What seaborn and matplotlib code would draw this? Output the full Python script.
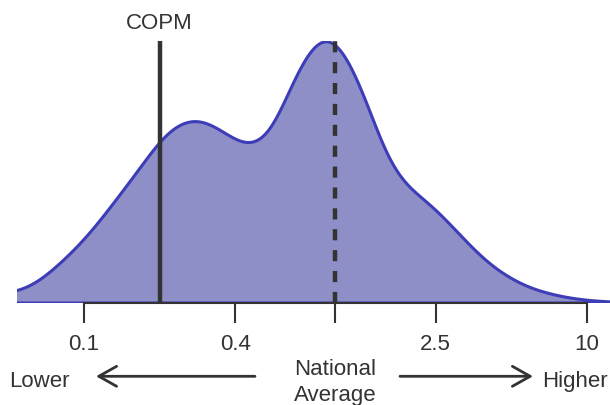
import numpy as np
import matplotlib
matplotlib.use("Agg")
import matplotlib.pyplot as plt
import seaborn as sns

# density curve (log10 of the ratio, height in px above baseline)
log_centers = np.round(np.arange(-1.60, 1.151, 0.05), 2)
density = [
    1.5, 2.5, 3.5, 5, 6.5, 8, 9.5, 12,
    17, 26, 37, 48, 61, 75, 91, 107,
    123, 140, 157, 170, 177, 179, 175, 167,
    158, 152, 154, 166, 196, 225, 248, 261,
    258, 238, 212, 178, 143, 122, 110, 101,
    91, 78, 65, 52, 40, 31, 23, 17,
    12, 9, 6, 4, 2.5, 1.5, 1, 0.5,
]

copm = 0.2
national_avg = 1.0
tick_values = [0.1, 0.4, 1, 2.5, 10]
tick_labels = ["0.1", "0.4", "", "2.5", "10"]

FILL = "#8f8fc8"
LINE = "#3d3db8"
DARK = "#333333"

sns.set_style("ticks")
plt.rcParams["font.family"] = ["Liberation Sans", "DejaVu Sans"]
plt.rcParams["font.size"] = 16

fig = plt.figure(figsize=(6.1, 4.06), dpi=100)
ax = fig.add_axes([17 / 610, 102 / 406, 593 / 610, 262 / 406])

# kernel width of 0.05 in log10 units
w = np.array(density) / np.sum(density)
mean = np.sum(w * log_centers)
std = np.sqrt(np.sum(w * (log_centers - mean) ** 2))

sns.kdeplot(
    x=10 ** log_centers,
    weights=density,
    log_scale=True,
    fill=True,
    bw_method=0.05 / std,
    gridsize=800,
    color=LINE,
    facecolor=FILL,
    edgecolor=LINE,
    alpha=1,
    linewidth=2.2,
    ax=ax,
)

peak = ax.collections[0].get_paths()[0].vertices[:, 1].max()
ax.set_ylim(0, peak * 1.003)
ax.set_xlim(0.0542, 12.35)

ax.axvline(copm, color=DARK, lw=3.2, solid_capstyle="butt")
ax.axvline(national_avg, color=DARK, lw=3.2, dashes=(2.5, 2.2))

ax.annotate("COPM", xy=(copm, 1.048), xycoords=("data", "axes fraction"),
            ha="center", va="baseline", color=DARK, fontsize=16,
            annotation_clip=False)

ax.set_xticks(tick_values)
ax.set_xticklabels(tick_labels)
ax.tick_params(axis="x", which="minor", bottom=False)
ax.tick_params(axis="x", which="major", length=14.5, width=1.5,
               color=DARK, labelcolor=DARK, labelsize=16, pad=7)
ax.set_yticks([])
ax.set_ylabel("")
sns.despine(ax=ax, left=True)
ax.spines["bottom"].set_bounds(0.1, 10)
ax.spines["bottom"].set_linewidth(1.5)
ax.spines["bottom"].set_color(DARK)

# direction labels under the axis
fig.text(39.5 / 610, 19.3 / 406, "Lower", ha="center", va="baseline",
         color=DARK, fontsize=16)
fig.text(574.5 / 610, 19.3 / 406, "Higher", ha="center", va="baseline",
         color=DARK, fontsize=16)
fig.text(335.5 / 610, 47 / 406, "National\nAverage", ha="center", va="top",
         color=DARK, fontsize=16, linespacing=1.3)

arrow = dict(arrowstyle="->,head_length=0.8,head_width=0.45", lw=2,
             color=DARK, shrinkA=0, shrinkB=0, mutation_scale=16)
fig.add_artist(matplotlib.patches.FancyArrowPatch(
    (255, 28.7), (96, 28.7), transform=None, **arrow))
fig.add_artist(matplotlib.patches.FancyArrowPatch(
    (400, 28.7), (533, 28.7), transform=None, **arrow))

fig.savefig("out.png", dpi=100)
